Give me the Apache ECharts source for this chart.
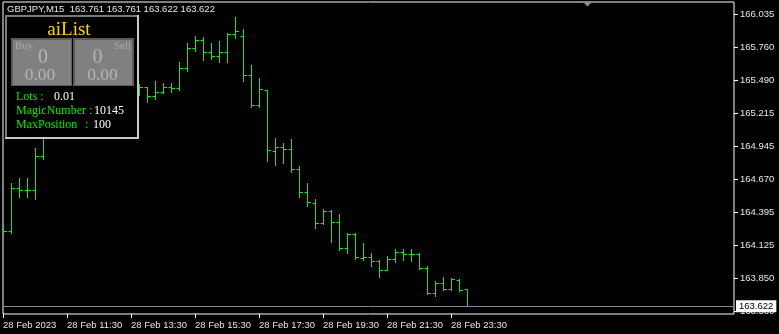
<!DOCTYPE html>
<html>
<head>
<meta charset="utf-8">
<script src="https://cdn.jsdelivr.net/npm/echarts@6/dist/echarts.min.js"></script>
<style>
html,body{margin:0;padding:0;background:#000;}
#chart{width:779px;height:334px;}
</style>
</head>
<body>
<div id="chart"></div>
<script>
// ---- data (GBPJPY M15, 28 Feb 2023) ----
const symbol = 'GBPJPY';
const timeframe = 'M15';
const times = ['09:30','09:45','10:00','10:15','10:30','10:45','11:00','11:15','11:30','11:45',
  '12:00','12:15','12:30','12:45','13:00','13:15','13:30','13:45','14:00','14:15',
  '14:30','14:45','15:00','15:15','15:30','15:45','16:00','16:15','16:30','16:45',
  '17:00','17:15','17:30','17:45','18:00','18:15','18:30','18:45','19:00','19:15',
  '19:30','19:45','20:00','20:15','20:30','20:45','21:00','21:15','21:30','21:45',
  '22:00','22:15','22:30','22:45','23:00','23:15','23:30','23:45','00:00'];
const open = [164.251,164.243,164.598,164.581,164.581,164.862,165.052,165.118,165.193,165.159,
  165.242,165.308,165.275,165.358,165.325,165.374,165.407,165.391,165.432,165.358,
  165.391,165.432,165.424,165.589,165.754,165.820,165.721,165.688,165.721,165.870,
  165.853,165.531,165.283,165.407,164.903,164.936,164.920,164.755,164.565,164.474,
  164.309,164.408,164.317,164.102,164.218,164.020,164.028,163.995,163.920,164.011,
  164.069,164.053,164.053,163.937,163.730,163.813,163.761,163.838,163.761];
const high = [164.292,164.639,164.680,164.680,164.928,165.093,165.159,165.226,165.259,165.283,
  165.341,165.366,165.391,165.424,165.407,165.457,165.473,165.457,165.432,165.482,
  165.465,165.465,165.639,165.795,165.853,165.845,165.795,165.812,165.878,166.010,
  165.911,165.614,165.506,165.407,165.011,164.970,165.003,164.780,164.639,164.507,
  164.424,164.416,164.383,164.226,164.226,164.144,164.061,164.003,164.036,164.094,
  164.094,164.094,164.061,163.954,163.830,163.863,163.854,163.846,163.761];
const low = [164.226,164.226,164.523,164.523,164.507,164.837,165.011,165.077,165.126,165.118,
  165.201,165.242,165.259,165.292,165.275,165.341,165.358,165.366,165.308,165.333,
  165.382,165.391,165.407,165.564,165.729,165.655,165.663,165.639,165.639,165.837,
  165.482,165.267,165.267,164.821,164.788,164.804,164.730,164.523,164.449,164.267,
  164.300,164.152,164.086,164.061,164.011,164.003,163.954,163.863,163.920,163.987,
  164.003,163.995,163.929,163.722,163.706,163.755,163.755,163.747,163.622];
const close = [164.243,164.598,164.581,164.581,164.862,165.052,165.118,165.193,165.159,165.242,
  165.308,165.275,165.358,165.325,165.374,165.407,165.391,165.432,165.358,165.391,
  165.432,165.424,165.589,165.754,165.820,165.721,165.688,165.721,165.870,165.895,
  165.531,165.283,165.416,164.912,164.936,164.920,164.755,164.565,164.482,164.309,
  164.408,164.317,164.102,164.218,164.028,164.028,163.995,163.920,164.011,164.069,
  164.053,164.053,163.937,163.730,163.813,163.761,163.846,163.755,163.622];
const priceTicks = [166.035,165.760,165.490,165.215,164.945,164.670,164.395,164.125,163.850,163.580];
const timeTickIndex = [0,8,16,24,32,40,48,56];
const timeTickLabels = ['28 Feb 2023','28 Feb 11:30','28 Feb 13:30','28 Feb 15:30',
  '28 Feb 17:30','28 Feb 19:30','28 Feb 21:30','28 Feb 23:30'];
const panelTitle = 'aiList';
const buyCount = '0', buyProfit = '0.00', sellCount = '0', sellProfit = '0.00';
const lots = '0.01', magicNumber = '10145', maxPosition = '100';

// ---- chart ----
const bars = open.map((o, i) => [i, o, high[i], low[i], close[i]]);
const last = bars.length - 1;
const fmt = v => v.toFixed(3);
const header = symbol + ',' + timeframe + '  ' +
  [open[last], high[last], low[last], close[last]].map(fmt).join(' ');

const BAR = '#1fe01f';
const AX = 'Liberation Sans, Arial, sans-serif';
const SERIF = 'Liberation Serif, Times New Roman, serif';

function rect(x, y, w, h, fill) {
  return {type:'rect', z:100, silent:true, shape:{x, y, width:w, height:h}, style:{fill}};
}
// (x, baseline) -> text drawn with top alignment
function txt(x, base, text, color, size, align) {
  return {type:'text', z:101, silent:true, x, y: base - 0.78 * size,
    style:{text, fill:color, font: size + 'px ' + SERIF, align: align || 'left', verticalAlign:'top'}};
}

const chart = echarts.init(document.getElementById('chart'), null, {renderer:'canvas', width:779, height:334});
chart.setOption({
  backgroundColor:'#000',
  animation:false,
  grid:{left:3, right:45, top:2, bottom:20, show:true, borderColor:'#ffffff', borderWidth:1, backgroundColor:'#000'},
  xAxis:{
    type:'value', min:0, max:91.375, position:'bottom',
    axisLine:{show:false, onZero:false},
    splitLine:{show:false},
    axisTick:{show:true, inside:false, length:4, lineStyle:{color:'#ffffff'}, customValues: timeTickIndex},
    axisLabel:{show:true, customValues: timeTickIndex, align:'left', margin:6,
      color:'#e8e8e8', fontFamily:AX, fontSize:9.5,
      formatter: v => { const k = timeTickIndex.indexOf(Math.round(v)); return k >= 0 ? timeTickLabels[k] : ''; }}
  },
  yAxis:{
    type:'value', position:'right', min:163.557, max:166.13412, scale:true,
    axisLine:{show:false, onZero:false},
    splitLine:{show:false},
    axisTick:{show:true, inside:false, length:4, lineStyle:{color:'#ffffff'}, customValues: priceTicks},
    axisLabel:{show:true, customValues: priceTicks, margin:6, color:'#e8e8e8', fontFamily:AX, fontSize:9.5,
      formatter: v => fmt(v)}
  },
  series:[{
    type:'custom',
    clip:true,
    data:bars,
    renderItem:(params, api) => {
      const x = api.value(0);
      const o = api.coord([x, api.value(1)]);
      const h = api.coord([x, api.value(2)]);
      const l = api.coord([x, api.value(3)]);
      const c = api.coord([x, api.value(4)]);
      const px = Math.round(o[0]) + 0.5;
      const st = {stroke:BAR, lineWidth:1};
      const oy = Math.round(o[1]) + 0.5, cy = Math.round(c[1]) + 0.5;
      return {type:'group', children:[
        {type:'line', shape:{x1:px, y1:Math.round(h[1]), x2:px, y2:Math.round(l[1]) + 1}, style:st},
        {type:'line', shape:{x1:px - 3, y1:oy, x2:px, y2:oy}, style:st},
        {type:'line', shape:{x1:px, y1:cy, x2:px + 3.5, y2:cy}, style:st}
      ]};
    },
    markLine:{
      silent:true, symbol:['none','none'], animation:false,
      lineStyle:{color:'#778899', width:1, type:'solid'},
      label:{show:true, position:'end', distance:2, formatter: () => fmt(close[last]),
        color:'#000', backgroundColor:'#ffffff', padding:[1,3,0,3], lineHeight:11,
        fontFamily:AX, fontSize:9.5},
      data:[{yAxis: close[last]}]
    }
  }],
  graphic:[
    {type:'text', z:101, silent:true, left:7, top:4,
      style:{text:header, fill:'#e8e8e8', font:'9.5px ' + AX}},
    {type:'polygon', z:101, silent:true, shape:{points:[[583,2],[592,2],[587.5,6.5]]}, style:{fill:'#8c8c8c'}},
    // panel frame
    rect(5, 15, 134, 124, '#000'),
    rect(5, 15, 134, 2, '#7a7a7a'),
    rect(5, 15, 2, 124, '#7a7a7a'),
    rect(137, 15, 2, 124, '#c8c8c8'),
    rect(5, 137, 134, 2, '#c8c8c8'),
    // buy / sell boxes
    rect(11, 38, 61, 48, '#5c5c5c'),
    rect(13, 40, 58, 45, '#808080'),
    rect(73, 38, 61, 48, '#5c5c5c'),
    rect(75, 40, 57, 45, '#808080'),
    txt(69, 35, panelTitle, '#ffd200', 19, 'center'),
    txt(15, 49, 'Buy', '#a9a9a9', 11, 'left'),
    txt(131, 49, 'Sell', '#a9a9a9', 11, 'right'),
    txt(43, 63, buyCount, '#b4b4b4', 20, 'center'),
    txt(40, 80, buyProfit, '#b4b4b4', 17.5, 'center'),
    txt(97.5, 63, sellCount, '#b4b4b4', 20, 'center'),
    txt(102.5, 80, sellProfit, '#b4b4b4', 17.5, 'center'),
    txt(16, 100, 'Lots :', '#00ee00', 12),
    txt(54, 100, lots, '#ffffff', 12),
    txt(16, 114, 'MagicNumber :', '#00ee00', 12),
    txt(94, 114, magicNumber, '#ffffff', 12),
    txt(16, 128, 'MaxPosition', '#00ee00', 12),
    txt(85, 128, ':', '#00ee00', 12),
    txt(93, 128, maxPosition, '#ffffff', 12)
  ]
});
</script>
</body>
</html>
